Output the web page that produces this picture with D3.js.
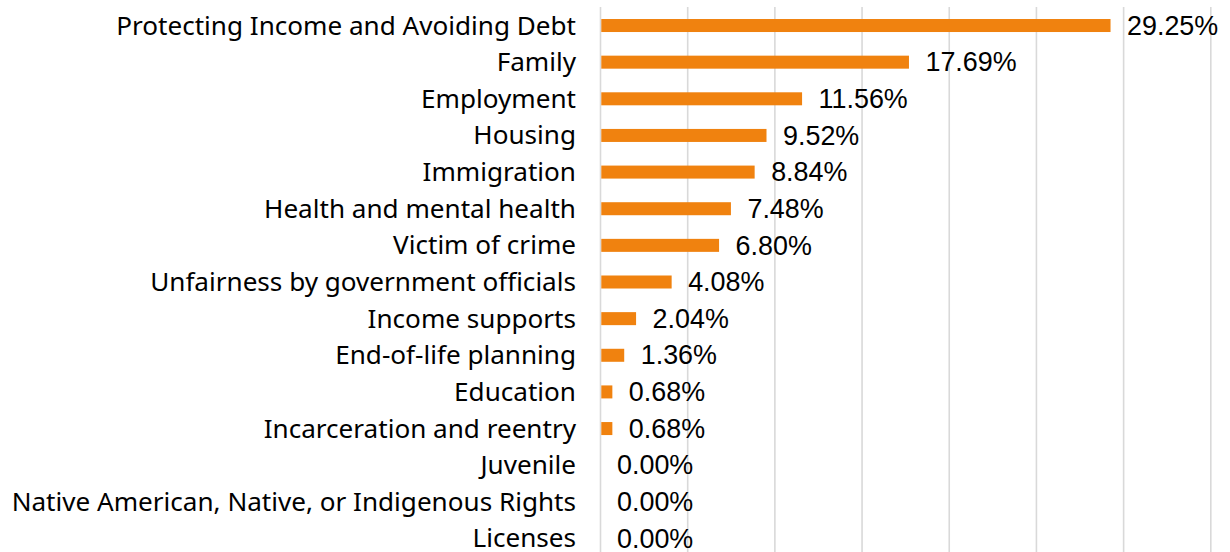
<!DOCTYPE html>
<html>
<head>
<meta charset="utf-8">
<script src="https://cdn.jsdelivr.net/npm/d3@7"></script>
<style>
  body { margin: 0; background: #fff; }
  svg { display: block; }
</style>
</head>
<body>
<svg id="chart" width="1230" height="552"></svg>
<script>
// Share of legal problems by category (percent)
const categories = [
  "Protecting Income and Avoiding Debt",
  "Family",
  "Employment",
  "Housing",
  "Immigration",
  "Health and mental health",
  "Victim of crime",
  "Unfairness by government officials",
  "Income supports",
  "End-of-life planning",
  "Education",
  "Incarceration and reentry",
  "Juvenile",
  "Native American, Native, or Indigenous Rights",
  "Licenses"
];
const values = [29.25, 17.69, 11.56, 9.52, 8.84, 7.48, 6.80, 4.08, 2.04, 1.36, 0.68, 0.68, 0.00, 0.00, 0.00];
const gridTicks = [0, 5, 10, 15, 20, 25, 30, 35];

const svg = d3.select("#chart");

const x = d3.scaleLinear().domain([0, 35]).range([600.5, 1210.8]);
const y = d3.scaleBand().domain(categories).range([7.2, 556.8]).paddingInner(0.645).paddingOuter(0.3225);

// vertical gridlines
svg.append("g")
  .selectAll("line")
  .data(gridTicks)
  .join("line")
  .attr("x1", d => x(d)).attr("x2", d => x(d))
  .attr("y1", 7).attr("y2", 557)
  .attr("stroke", "#d9d9d9")
  .attr("stroke-width", 1.6);

// bars
svg.append("g")
  .selectAll("rect")
  .data(values)
  .join("rect")
  .attr("x", x(0) + 0.8)
  .attr("y", (d, i) => y(categories[i]))
  .attr("width", d => Math.max(0, x(d) - x(0) - 0.8))
  .attr("height", y.bandwidth())
  .attr("fill", "#F0820F");

// category labels
svg.append("g")
  .selectAll("text")
  .data(categories)
  .join("text")
  .attr("x", 576)
  .attr("y", d => y(d) + y.bandwidth() / 2 + 9)
  .attr("text-anchor", "end")
  .style("font-family", "'Noto Sans', sans-serif")
  .style("font-size", "26.1px")
  .attr("fill", "#000")
  .text(d => d);

// value labels
svg.append("g")
  .selectAll("text")
  .data(values)
  .join("text")
  .attr("x", d => x(d) + 16.5)
  .attr("y", (d, i) => y(categories[i]) + y.bandwidth() / 2 + 9.2)
  .style("font-family", "'Liberation Sans', Arial, sans-serif")
  .style("font-size", "26.9px")
  .attr("fill", "#000")
  .text(d => d3.format(".2f")(d) + "%");
</script>
</body>
</html>
